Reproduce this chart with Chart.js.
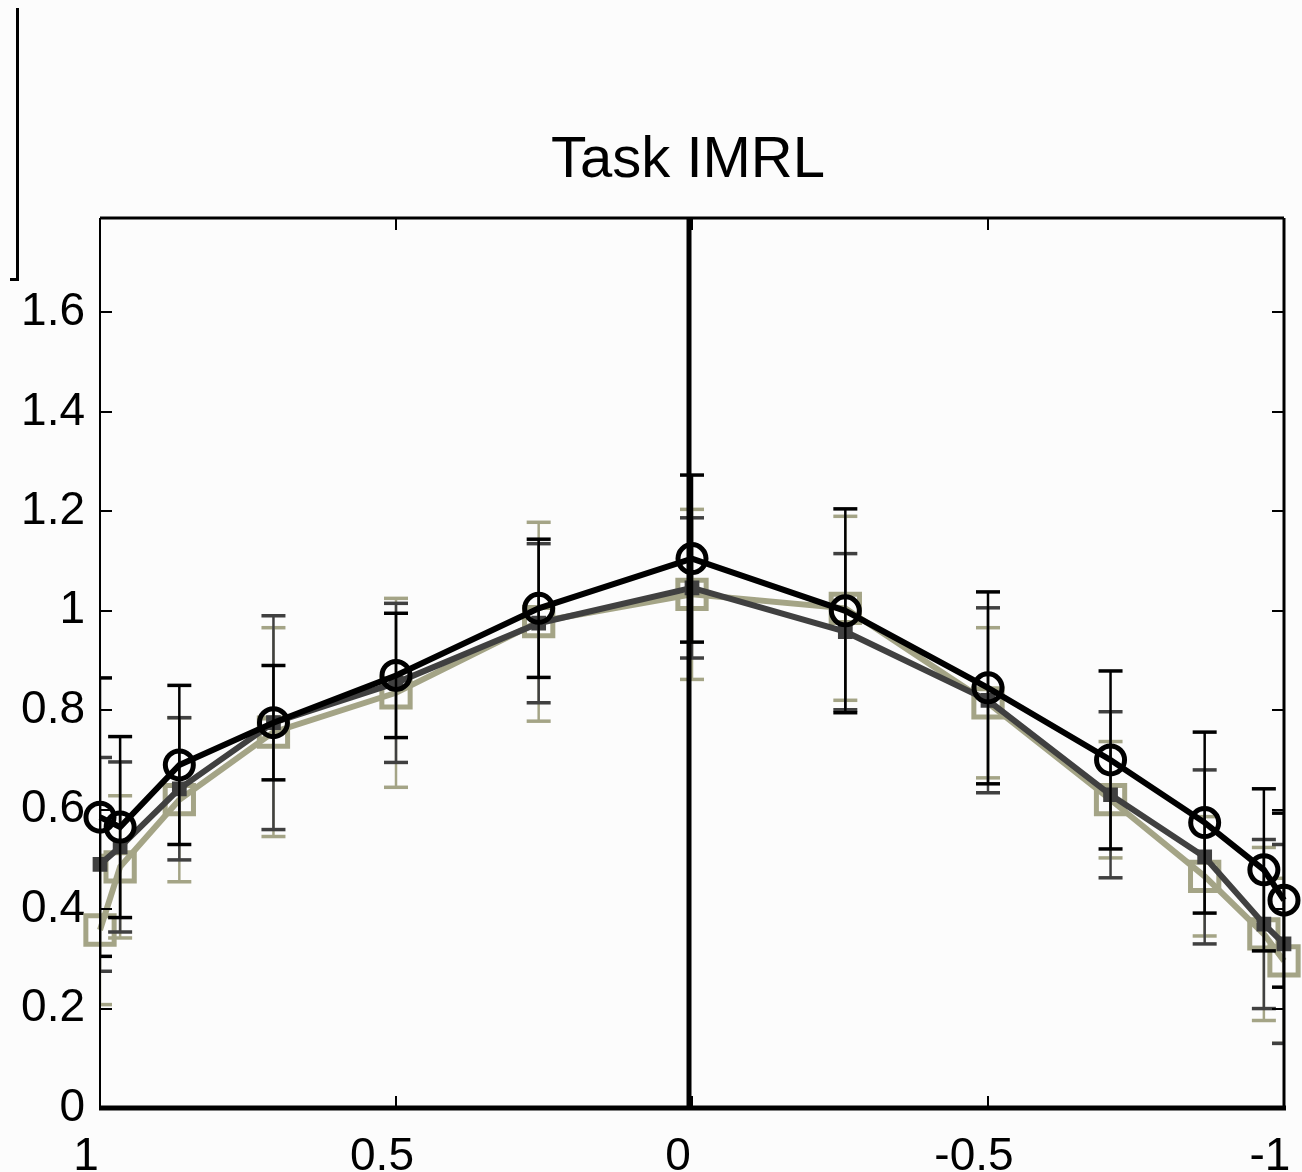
<!DOCTYPE html>
<html lang="en">
<head>
<meta charset="UTF-8">
<title>Task IMRL</title>
<script src="https://cdn.jsdelivr.net/npm/chart.js@4.4.1/dist/chart.umd.min.js"></script>
<style>
    html, body { margin: 0; padding: 0; background: #fcfcfc; }
    .wrap { position: relative; width: 1302px; height: 1172px; }
    /* leftover edge of the neighbouring panel */
    .bracket {
        position: absolute; left: 10px; top: 8px; width: 6px; height: 270px;
        border-right: 3px solid #000; border-bottom: 3px solid #000;
    }
    .title {
        position: absolute; left: 488px; top: 128px; width: 400px;
        text-align: center; font: 58px/58px 'Liberation Sans', Arial, sans-serif;
        color: #000; white-space: nowrap;
    }
</style>
</head>
<body>
<div class="wrap">
    <div class="bracket"></div>
    <div class="title">Task IMRL</div>
    <canvas id="chart" width="1302" height="1172"></canvas>
</div>

<script>
    // x positions (cosine of the angle), plotted from 1 down to -1
    const xPos = [1, 0.966, 0.866, 0.707, 0.5, 0.259, 0, -0.259, -0.5, -0.707, -0.866, -0.966, -1];

    // black, circles
    const blackMean = [0.585, 0.565, 0.69, 0.775, 0.87, 1.005, 1.105, 1.0, 0.845, 0.70, 0.574, 0.479, 0.418];
    const blackErr  = [0.28, 0.182, 0.16, 0.115, 0.125, 0.139, 0.168, 0.205, 0.193, 0.179, 0.182, 0.163, 0.175];

    // dark grey
    const greyMean = [0.49, 0.525, 0.642, 0.775, 0.855, 0.975, 1.046, 0.958, 0.82, 0.63, 0.505, 0.37, 0.33];
    const greyErr  = [0.215, 0.171, 0.143, 0.215, 0.16, 0.16, 0.141, 0.157, 0.186, 0.167, 0.175, 0.17, 0.2];

    // khaki, open squares
    const khakiMean = [0.358, 0.485, 0.62, 0.756, 0.835, 0.978, 1.033, 1.005, 0.815, 0.62, 0.466, 0.35, 0.296];
    const khakiErr  = [0.15, 0.143, 0.165, 0.21, 0.19, 0.2, 0.171, 0.185, 0.151, 0.117, 0.12, 0.174, 0.166];

    const xTickStep = 0.5;
    const yTickStep = 0.2;
    const yMax = 1.79;

    const FONT = "'Liberation Sans', Arial, sans-serif";
    const KHAKI = '#a4a486';
    const GREY = '#404040';

    const points = means => xPos.map((x, i) => ({ x: x, y: means[i] }));

    function line(ctx, x1, y1, x2, y2) {
        ctx.beginPath();
        ctx.moveTo(x1, y1);
        ctx.lineTo(x2, y2);
        ctx.stroke();
    }

    const framePlugin = {
        id: 'frame',
        beforeDatasetDraw(chart, args) {
            const ds = chart.data.datasets[args.index];
            if (!ds.errors) return;
            const { ctx, chartArea: a, scales: { y } } = chart;
            const meta = chart.getDatasetMeta(args.index);
            ctx.save();
            ctx.beginPath();
            ctx.rect(a.left, a.top, a.right - a.left, a.bottom - a.top);
            ctx.clip();
            ctx.strokeStyle = ds.borderColor;
            meta.data.forEach((pt, i) => {
                const v = ds.data[i].y, e = ds.errors[i];
                const top = y.getPixelForValue(v + e);
                const bot = y.getPixelForValue(v - e);
                ctx.lineWidth = 2.5;
                line(ctx, pt.x, top, pt.x, bot);
                ctx.lineWidth = 3.5;
                line(ctx, pt.x - 12, top, pt.x + 12, top);
                line(ctx, pt.x - 12, bot, pt.x + 12, bot);
            });
            ctx.restore();
        },
        afterDatasetsDraw(chart) {
            const { ctx, chartArea: a, scales: { x, y } } = chart;
            ctx.save();
            ctx.strokeStyle = '#000';
            ctx.lineWidth = 2;
            y.ticks.forEach(t => {
                const py = Math.round(y.getPixelForValue(t.value));
                line(ctx, a.left, py, a.left + 12, py);
                line(ctx, a.right - 12, py, a.right, py);
            });
            x.ticks.forEach(t => {
                const px = Math.round(x.getPixelForValue(t.value));
                line(ctx, px, a.bottom, px, a.bottom - 12);
                line(ctx, px, a.top, px, a.top + 12);
            });
            // vertical line at x = 0
            const zx = x.getPixelForValue(0) - 3;
            ctx.lineWidth = 5;
            line(ctx, zx, a.top, zx, a.bottom);
            // box
            ctx.lineWidth = 2;
            line(ctx, a.left, a.top, a.left, a.bottom);
            ctx.lineWidth = 3;
            line(ctx, a.left, a.top, a.right, a.top);
            line(ctx, a.right, a.top, a.right, a.bottom);
            ctx.lineWidth = 5;
            line(ctx, a.left - 1, a.bottom, a.right + 2, a.bottom);
            ctx.restore();
        }
    };

    new Chart(document.getElementById('chart'), {
        type: 'line',
        data: {
            datasets: [
                {
                    label: 'black',
                    data: points(blackMean),
                    errors: blackErr,
                    borderColor: '#000',
                    borderWidth: 6,
                    pointStyle: 'circle',
                    pointRadius: 14,
                    pointBorderWidth: 5,
                    pointBorderColor: '#000',
                    pointBackgroundColor: 'rgba(0,0,0,0)',
                    clip: false
                },
                {
                    label: 'grey',
                    data: points(greyMean),
                    errors: greyErr,
                    borderColor: GREY,
                    borderWidth: 6,
                    pointStyle: 'rect',
                    pointRadius: 9,
                    pointBorderWidth: 2,
                    pointBorderColor: GREY,
                    pointBackgroundColor: GREY,
                    clip: false
                },
                {
                    label: 'khaki',
                    data: points(khakiMean),
                    errors: khakiErr,
                    borderColor: KHAKI,
                    borderWidth: 6,
                    pointStyle: 'rect',
                    pointRadius: 20,
                    pointBorderWidth: 5,
                    pointBorderColor: KHAKI,
                    pointBackgroundColor: 'rgba(0,0,0,0)',
                    clip: false
                }
            ]
        },
        options: {
            responsive: false,
            animation: false,
            devicePixelRatio: 1,
            layout: { autoPadding: false, padding: { left: 0, right: 18, top: 218, bottom: 0 } },
            plugins: {
                legend: { display: false },
                tooltip: { enabled: false },
                title: { display: false }
            },
            scales: {
                x: {
                    type: 'linear',
                    reverse: true,
                    min: -1,
                    max: 1,
                    grid: { display: false, drawTicks: false },
                    border: { display: false },
                    ticks: {
                        stepSize: xTickStep,
                        color: '#000',
                        padding: 22,
                        labelOffset: -14,
                        maxRotation: 0,
                        font: { family: FONT, size: 46 },
                        callback: v => String(Number(v.toFixed(1)))
                    },
                    afterFit(scale) {
                        scale.height = 64;
                        scale.paddingLeft = 0;
                        scale.paddingRight = 0;
                    }
                },
                y: {
                    min: 0,
                    max: yMax,
                    grid: { display: false, drawTicks: false },
                    border: { display: false },
                    ticks: {
                        stepSize: yTickStep,
                        includeBounds: false,
                        color: '#000',
                        padding: 15,
                        font: { family: FONT, size: 46 },
                        callback: v => String(Number(v.toFixed(1)))
                    },
                    afterFit(scale) {
                        scale.width = 100;
                        scale.paddingTop = 0;
                        scale.paddingBottom = 0;
                    }
                }
            }
        },
        plugins: [framePlugin]
    });
</script>
</body>
</html>
